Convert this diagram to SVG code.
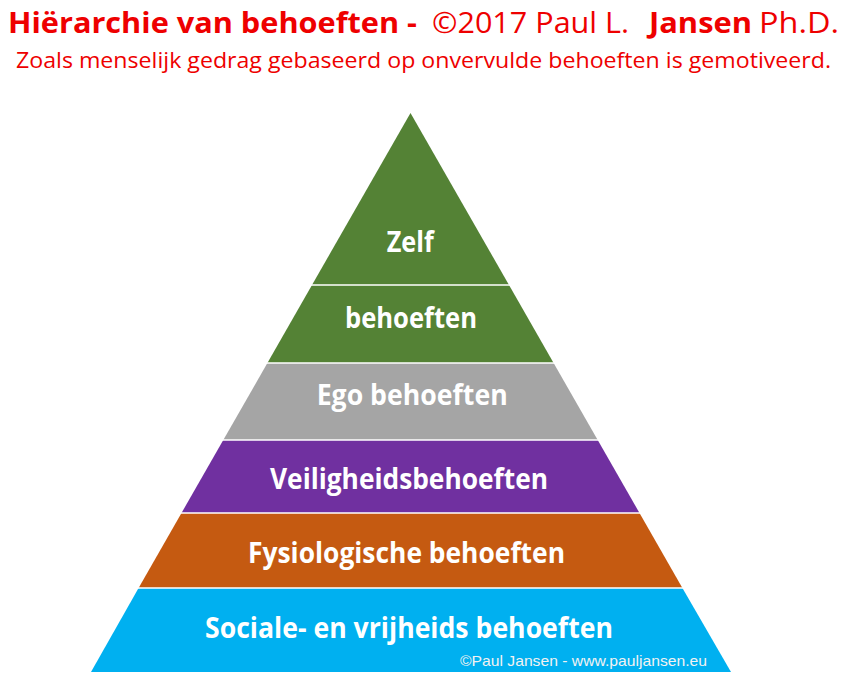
<svg xmlns="http://www.w3.org/2000/svg" width="848" height="680" viewBox="0 0 848 680">
<style>
.t{font-family:"Open Sans","Liberation Sans",sans-serif;fill:#EE0000}
.b{font-weight:bold}
.lbl{font-family:"Open Sans","Liberation Sans",sans-serif;font-weight:bold;font-size:28px;fill:#FFFFFF}
.sep{stroke:#FFFFFF;stroke-width:1.6}
</style>
<rect width="848" height="680" fill="#FFFFFF"/>
<g id="title">
<text class="t b" x="8" y="33" font-size="29" textLength="409" lengthAdjust="spacingAndGlyphs">Hiërarchie van behoeften -</text>
<text class="t" x="432" y="33" font-size="29" textLength="197" lengthAdjust="spacingAndGlyphs">©2017 Paul L.</text>
<text class="t b" x="649" y="33" font-size="29" textLength="103" lengthAdjust="spacingAndGlyphs">Jansen</text>
<text class="t" x="759" y="33" font-size="29" textLength="80" lengthAdjust="spacingAndGlyphs">Ph.D.</text>
</g>
<g id="subtitle">
<text class="t" x="16" y="68" font-size="21" textLength="815" lengthAdjust="spacingAndGlyphs">Zoals menselijk gedrag gebaseerd op onvervulde behoeften is gemotiveerd.</text>
</g>
<g id="zelf">
<polygon points="410.5,113 509,285 312,285" fill="#548235"/>
<text class="lbl" x="386.7" y="252" textLength="47" lengthAdjust="spacingAndGlyphs">Zelf</text>
</g>
<g id="behoeften">
<polygon points="312,285 509,285 553.6,363 267.4,363" fill="#548235"/>
<text class="lbl" x="345" y="328" textLength="132" lengthAdjust="spacingAndGlyphs">behoeften</text>
</g>
<g id="ego">
<polygon points="267.4,363 553.6,363 597.7,440 223.3,440" fill="#A5A5A5"/>
<text class="lbl" x="316.7" y="405" textLength="191" lengthAdjust="spacingAndGlyphs">Ego behoeften</text>
</g>
<g id="veiligheid">
<polygon points="223.3,440 597.7,440 639.5,513 181.5,513" fill="#7030A0"/>
<text class="lbl" x="270" y="489" textLength="278" lengthAdjust="spacingAndGlyphs">Veiligheidsbehoeften</text>
</g>
<g id="fysiologisch">
<polygon points="181.5,513 639.5,513 682.4,588 138.6,588" fill="#C55A11"/>
<text class="lbl" x="248" y="563" textLength="317" lengthAdjust="spacingAndGlyphs">Fysiologische behoeften</text>
</g>
<g id="sociaal">
<polygon points="138.6,588 682.4,588 731,672 91,672" fill="#00B0F0"/>
<text class="lbl" x="205" y="638" textLength="408" lengthAdjust="spacingAndGlyphs">Sociale- en vrijheids behoeften</text>
<text x="460" y="666" font-family="'Liberation Sans',Arial,sans-serif" font-size="15" fill="#F2F2F2" textLength="247" lengthAdjust="spacingAndGlyphs">©Paul Jansen - www.pauljansen.eu</text>
</g>
<g id="connectors">
<line class="sep" x1="300" y1="285" x2="520" y2="285"/>
<line class="sep" x1="255" y1="363" x2="565" y2="363"/>
<line class="sep" x1="210" y1="440" x2="610" y2="440"/>
<line class="sep" x1="170" y1="513" x2="650" y2="513"/>
<line class="sep" x1="125" y1="588" x2="695" y2="588"/>
</g>
</svg>
